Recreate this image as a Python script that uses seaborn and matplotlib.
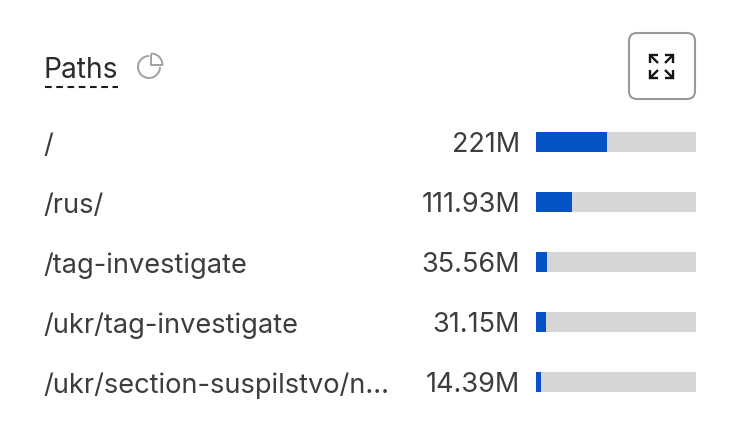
import matplotlib
matplotlib.use('Agg')
import matplotlib.pyplot as plt
from matplotlib.patches import Arc, FancyBboxPatch, Polygon
import seaborn as sns

# Data
paths = ['/', '/rus/', '/tag-investigate', '/ukr/tag-investigate', '/ukr/section-suspilstvo/n...']
value_labels = ['221M', '111.93M', '35.56M', '31.15M', '14.39M']
values_m = [221, 111.93, 35.56, 31.15, 14.39]
total_m = [498, 498, 498, 498, 498]

W, H = 736, 436

sns.set_theme(style='white')
plt.rcParams['font.family'] = ['Inter', 'DejaVu Sans']

fig = plt.figure(figsize=(W / 100, H / 100), dpi=100, facecolor='white')

# Axes des barres, placé en pixels
ax = fig.add_axes([536 / W, 1 - 412 / H, 160 / W, 300 / H])
sns.barplot(x=total_m, y=paths, color='#d6d6d6', width=1 / 3, saturation=1, linewidth=0, ax=ax)
sns.barplot(x=values_m, y=paths, color='#0551c6', width=1 / 3, saturation=1, linewidth=0, ax=ax)
ax.set_xlim(0, 498)
ax.set_ylim(4.5, -0.5)
sns.despine(ax=ax, left=True, bottom=True)
ax.set_xticks([])
ax.set_xlabel('')
ax.set_ylabel('')
ax.set_yticks(range(len(paths)))
ax.set_yticklabels(value_labels, fontsize=19.5, color='#3d3d3d', va='center_baseline')
ax.tick_params(axis='y', length=0, pad=11.5)

# Libellés à gauche
trans = ax.get_yaxis_transform()
x_left = (43.5 - 536) / 160
for i, p in enumerate(paths):
    ax.text(x_left, i + 0.015, p, transform=trans, fontsize=19.6, color='#3d3d3d',
            ha='left', va='center_baseline', clip_on=False)

# Couche pour l'en-tête, en coordonnées pixels
overlay = fig.add_axes([0, 0, 1, 1], facecolor='none')
overlay.set_xlim(0, W)
overlay.set_ylim(H, 0)
overlay.axis('off')

overlay.text(44, 67, 'Paths', fontsize=20.3, color='#2b2b2b', ha='left', va='center_baseline')
overlay.plot([45, 118], [87, 87], color='#1a1a1a', lw=1.5, dashes=(3.2, 2.2), dash_capstyle='butt')

# Icône camembert
grey = '#a0a0a0'
overlay.add_patch(Arc((149, 67), 22, 22, theta1=0, theta2=270, color=grey, lw=1.4))
overlay.add_patch(Polygon([(151, 54), (151, 65), (163, 65)], closed=False, fill=False,
                          edgecolor=grey, lw=1.4))
overlay.add_patch(Arc((151, 65), 23, 23, theta1=270, theta2=360, color=grey, lw=1.4))

# Bouton agrandir
overlay.add_patch(FancyBboxPatch((629, 33), 66, 66, boxstyle='round,pad=0,rounding_size=8',
                                 fill=False, edgecolor='#999999', lw=1.5))
dark = '#151515'
for sx, sy in [(-1, -1), (1, -1), (-1, 1), (1, 1)]:
    cx, cy = 661.5 + sx * 11.5, 66.5 + sy * 11.5
    overlay.plot([cx - sx * 8, cx, cx], [cy, cy, cy - sy * 8], color=dark, lw=1.7,
                 solid_joinstyle='miter', solid_capstyle='butt')
    overlay.plot([cx, cx - sx * 8], [cy, cy - sy * 8], color=dark, lw=1.7, solid_capstyle='butt')

fig.savefig('out.png', dpi=100)
